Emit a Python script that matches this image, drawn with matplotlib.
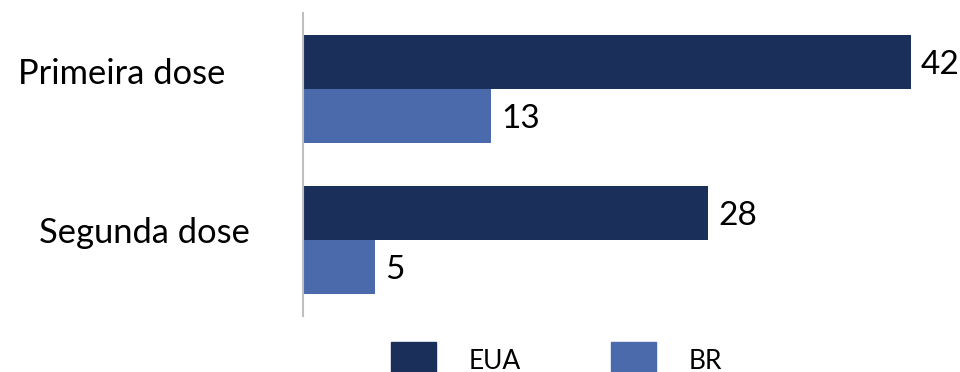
import numpy as np
import matplotlib.pyplot as plt
from matplotlib.patches import Patch
from matplotlib.transforms import blended_transform_factory

plt.rcParams['font.family'] = ['Lato', 'DejaVu Sans']

categorias = ['Primeira dose', 'Segunda dose']
series = ['EUA', 'BR']
eua = [42, 28]
br = [13, 5]
cores = ['#1b2f5b', '#4a6aac']

fig = plt.figure(figsize=(9.6, 3.72), dpi=100)
ax = fig.add_axes([303 / 960, 1 - 316 / 372, 608 / 960, 303 / 372])

y = np.arange(len(categorias))
h = 0.357
b1 = ax.barh(y - h / 2, eua, height=h, color=cores[0], label=series[0])
b2 = ax.barh(y + h / 2, br, height=h, color=cores[1], label=series[1])

ax.set_xlim(0, 42)
ax.set_ylim(1.5, -0.5)
ax.set_xticks([])
ax.set_yticks([])
for s in ['top', 'right', 'bottom']:
    ax.spines[s].set_visible(False)
ax.spines['left'].set_color('#bfbfbf')
ax.spines['left'].set_linewidth(1.5)

# valores ao lado das barras
for bars in (b1, b2):
    for r in bars:
        v = r.get_width()
        ax.annotate(str(v), (v, r.get_y() + r.get_height() / 2),
                    xytext=(7, -8.5), textcoords='offset points',
                    ha='left', va='baseline', fontsize=24, color='black',
                    annotation_clip=False)

# rotulos das categorias
tr = blended_transform_factory(ax.transAxes, ax.transData)
offs = [(-56, 3.6), (-38, -2.2)]
for i, c in enumerate(categorias):
    ax.annotate(c, (0, y[i]), xycoords=tr, xytext=offs[i],
                textcoords='offset points', ha='right', va='baseline',
                fontsize=24.8, color='black', annotation_clip=False)

handles = [Patch(color=cores[0], label=series[0]),
           Patch(color=cores[1], label=series[1])]
fig.legend(handles=handles, loc='upper left',
           bbox_to_anchor=(391 / 960, 1 - 342 / 372), ncol=2, frameon=False,
           fontsize=19, handlelength=1.7, handleheight=1.8,
           handletextpad=1.25, columnspacing=3.4, borderpad=0,
           borderaxespad=0)

fig.savefig('out.png', dpi=100)
